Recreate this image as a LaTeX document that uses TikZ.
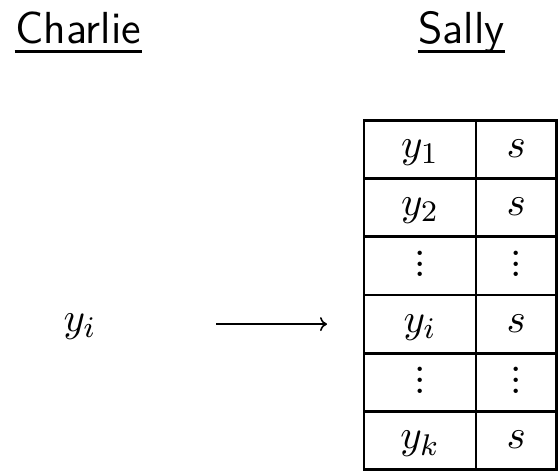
\RequirePackage{fix-cm}
\documentclass[tikz,border=0pt]{standalone}
\usetikzlibrary{arrows.meta}
\newcommand\tightvdots{\vbox{\baselineskip2.9pt\lineskiplimit0pt\hbox{.}\hbox{.}\hbox{.}}}
\begin{document}
\begin{tikzpicture}[x=1pt,y=-1pt,
  head/.style={font=\fontsize{12}{14.5}\selectfont\sffamily, scale=3.74, inner sep=0pt, anchor=base west},
  ul/.style={line width=2.7pt},
  mathtxt/.style={font=\fontsize{10.95}{13.6}\selectfont, scale=3.74, inner sep=0pt},
  cell/.style={draw, line width=2.7pt, inner sep=0pt, minimum height=58.17pt},
  cola/.style={cell, minimum width=112pt},
  colb/.style={cell, minimum width=80.5pt},
  entry/.style={mathtxt, anchor=base},
  dots/.style={mathtxt, anchor=center},
  arr/.style={line width=1.6pt, -{To[length=7pt,width=14pt]}}]
\useasboundingbox (0,0) rectangle (558,471);
% headings
\node[head] (charlie) at (14.7,43) {Charlie};
\node[head] (sally) at (417.7,43) {Sally};
\draw[ul] ([yshift=-8.3pt]charlie.base west) -- ([yshift=-8.3pt]charlie.base east);
\draw[ul] ([yshift=-8.3pt]sally.base west) -- ([yshift=-8.3pt]sally.base east);
% table grid
\node[cola] (a1) at (420,149.6) {};
\node[colb] (b1) at (516.25,149.6) {};
\node[cola] (a2) at (420,207.75) {};
\node[colb] (b2) at (516.25,207.75) {};
\node[cola] (a3) at (420,265.9) {};
\node[colb] (b3) at (516.25,265.9) {};
\node[cola] (a4) at (420,324.1) {};
\node[colb] (b4) at (516.25,324.1) {};
\node[cola] (a5) at (420,382.3) {};
\node[colb] (b5) at (516.25,382.3) {};
\node[cola] (a6) at (420,440.4) {};
\node[colb] (b6) at (516.25,440.4) {};
% table entries
\node[entry] (ta1) at ([yshift=-8pt]a1.center) {$y_1$};
\node[entry] (tb1) at ([yshift=-8pt]b1.center) {$s$};
\node[entry] (ta2) at ([yshift=-8pt]a2.center) {$y_2$};
\node[entry] (tb2) at ([yshift=-8pt]b2.center) {$s$};
\node[dots] (ta3) at ([yshift=2pt]a3.center) {\tightvdots};
\node[dots] (tb3) at ([yshift=2pt]b3.center) {\tightvdots};
\node[entry] (ta4) at ([yshift=-8pt]a4.center) {$y_i$};
\node[entry] (tb4) at ([yshift=-8pt]b4.center) {$s$};
\node[dots] (ta5) at ([yshift=2pt]a5.center) {\tightvdots};
\node[dots] (tb5) at ([yshift=2pt]b5.center) {\tightvdots};
\node[entry] (ta6) at ([yshift=-8pt]a6.center) {$y_k$};
\node[entry] (tb6) at ([yshift=-8pt]b6.center) {$s$};
% Charlie's value and arrow
\node[entry] (yi) at (80,331) {$y_i$};
\draw[arr, shorten <=119pt, shorten >=35.6pt] (yi.east |- a4.west) -- (a4.west);
\end{tikzpicture}
\end{document}
